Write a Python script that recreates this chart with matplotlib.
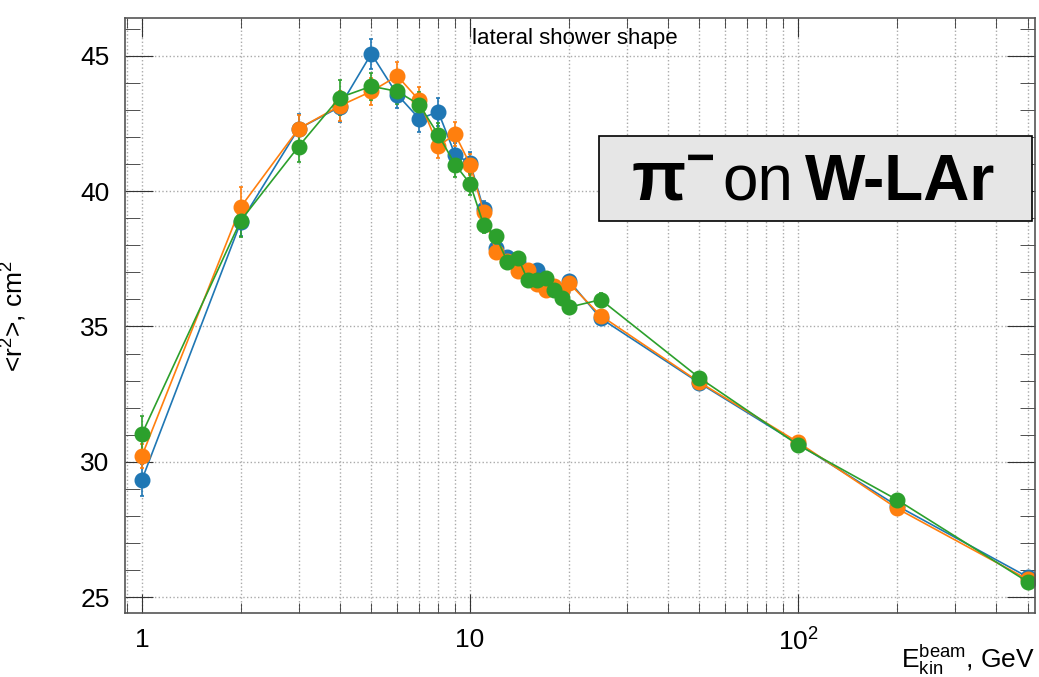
import numpy as np
import matplotlib.pyplot as plt
from matplotlib.ticker import LogLocator, FixedLocator, MultipleLocator, NullFormatter
from matplotlib.patches import Rectangle

plt.rcParams['font.family'] = ['Liberation Sans', 'DejaVu Sans']
plt.rcParams['mathtext.fontset'] = 'custom'
plt.rcParams['mathtext.rm'] = 'Liberation Sans'
plt.rcParams['mathtext.it'] = 'Liberation Sans:italic'
plt.rcParams['mathtext.bf'] = 'Liberation Sans:bold'

# beam energies, GeV
energy = [1, 2, 3, 4, 5, 6, 7, 8, 9, 10, 11, 12, 13, 14, 15, 16, 17, 18, 19, 20,
          25, 50, 100, 200, 500]

# <r^2>, cm^2 for the three series
r2_blue = [29.34, 38.85, 42.30, 43.10, 45.07, 43.56, 42.67, 42.92, 41.34, 41.04,
           39.32, 37.90, 37.56, 37.38, 37.00, 37.09, 36.60, 36.45, 36.30, 36.69,
           35.30, 32.91, 30.66, 28.38, 25.75]
r2_orange = [30.22, 39.41, 42.30, 43.14, 43.68, 44.25, 43.35, 41.66, 42.10, 40.98,
             39.22, 37.74, 37.40, 37.03, 37.10, 36.57, 36.36, 36.51, 36.30, 36.60,
             35.40, 32.94, 30.72, 28.28, 25.66]
r2_green = [31.03, 38.91, 41.64, 43.45, 43.87, 43.68, 43.19, 42.08, 40.98, 40.27,
            38.75, 38.33, 37.37, 37.53, 36.70, 36.70, 36.78, 36.36, 36.05, 35.71,
            35.99, 33.10, 30.62, 28.60, 25.57]

err_blue = [0.6, 0.5, 0.55, 0.55, 0.55, 0.5, 0.5, 0.5, 0.45, 0.4,
            0.3, 0.25, 0.2, 0.2, 0.2, 0.2, 0.2, 0.2, 0.2, 0.2,
            0.2, 0.1, 0.08, 0.08, 0.08]
err_orange = [0.45, 0.75, 0.5, 0.55, 0.5, 0.5, 0.5, 0.45, 0.45, 0.4,
              0.3, 0.25, 0.2, 0.2, 0.2, 0.2, 0.2, 0.2, 0.2, 0.2,
              0.2, 0.1, 0.08, 0.08, 0.08]
err_green = [0.65, 0.6, 0.55, 0.65, 0.5, 0.45, 0.45, 0.45, 0.45, 0.4,
             0.3, 0.25, 0.2, 0.2, 0.2, 0.2, 0.2, 0.2, 0.2, 0.2,
             0.25, 0.1, 0.08, 0.08, 0.08]

fig = plt.figure(figsize=(10.39, 6.77), dpi=100)
ax = fig.add_axes([125 / 1039, (677 - 613) / 677, 910 / 1039, (613 - 18) / 677])

for y, e, c in [(r2_blue, err_blue, '#1f77b4'),
                (r2_orange, err_orange, '#ff7f0e'),
                (r2_green, err_green, '#2ca02c')]:
    ax.errorbar(energy, y, yerr=e, color=c, marker='o', markersize=10.5,
                linewidth=1.2, elinewidth=1.2, capsize=1.5, capthick=1.2)

ax.set_xscale('log')
ax.set_xlim(0.888, 526.4)
ax.set_ylim(24.42, 46.39)

ax.xaxis.set_major_locator(FixedLocator([1, 10, 100]))
ax.set_xticklabels(['1', '10', r'$10^{2}$'])
ax.xaxis.set_minor_locator(LogLocator(base=10, subs=np.arange(2, 10), numticks=20))
ax.xaxis.set_minor_formatter(NullFormatter())
ax.yaxis.set_major_locator(MultipleLocator(5))
ax.yaxis.set_minor_locator(MultipleLocator(1))

ax.tick_params(axis='both', which='both', direction='in', top=True, right=True,
               color='#333333', labelsize=19)
ax.tick_params(axis='x', which='major', length=14, pad=11)
ax.tick_params(axis='x', which='minor', length=7)
ax.tick_params(axis='y', which='major', length=20, pad=11)
ax.tick_params(axis='y', which='minor', length=11)

ax.grid(True, which='major', axis='both', linestyle=':', color='#aaaaaa', linewidth=1)
ax.grid(True, which='minor', axis='x', linestyle=':', color='#aaaaaa', linewidth=1)
ax.set_axisbelow(True)

for s in ax.spines.values():
    s.set_color('#555555')
    s.set_linewidth(1.2)

ax.set_ylabel(r'<r$^{2}$>, cm$^{2}$', fontsize=19)
ax.yaxis.set_label_coords(-0.105, 0.5)

ax.text(1.0, -0.0924, r'E$_{\mathrm{kin}}^{\mathrm{beam}}$, GeV', transform=ax.transAxes,
        ha='right', va='baseline', fontsize=19)

ax.text(0.4945, 0.966, 'lateral shower shape', transform=ax.transAxes,
        ha='center', va='center', fontsize=16)

ax.add_patch(Rectangle((0.5209, 0.6593), 0.4755, 0.1429, transform=ax.transAxes,
                       facecolor='#e6e6e6', edgecolor='black', linewidth=1.2,
                       zorder=5))
# pi with a bold superscript minus, drawn as one string
ax.text(0.5560, 0.6941, 'π' + r'$^{\mathbf{-}}$', transform=ax.transAxes, fontsize=51,
        fontweight='bold', ha='left', va='baseline', zorder=6)
ax.text(0.6570, 0.6941, 'on', transform=ax.transAxes, fontsize=46,
        ha='left', va='baseline', zorder=6)
ax.text(0.7473, 0.6941, 'W-LAr', transform=ax.transAxes, fontsize=46,
        fontweight='bold', ha='left', va='baseline', zorder=6)

fig.savefig('out.png', dpi=100)
